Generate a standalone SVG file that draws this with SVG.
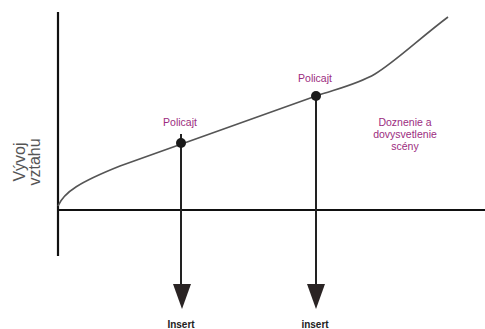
<svg xmlns="http://www.w3.org/2000/svg" width="485" height="329" viewBox="0 0 485 329">
<style>
.axis{stroke:#111;stroke-width:2.2;fill:none}
.curve{stroke:#555;stroke-width:1.6;fill:none}
.drop{stroke:#222;stroke-width:2;fill:none}
.pt{fill:#1a1a1a}
.tip{fill:#2a2424}
.lab{font-family:"Liberation Sans",Arial,sans-serif;font-size:10.5px;fill:#9c2c80;text-anchor:middle}
.ins{font-family:"Liberation Sans",Arial,sans-serif;font-size:10px;font-weight:bold;fill:#222;text-anchor:middle}
.ax{font-family:"Liberation Sans",Arial,sans-serif;font-size:16px;fill:#555;text-anchor:middle}
</style>
<rect width="485" height="329" fill="#fff"/>
<g id="axes">
<line class="axis" x1="58" y1="12" x2="58" y2="256"/>
<line class="axis" x1="57" y1="210" x2="485" y2="210"/>
<text class="ax" transform="translate(24.5,162) rotate(-90)">Vývoj</text>
<text class="ax" transform="translate(39.5,162) rotate(-90)">vztahu</text>
</g>
<g id="curve">
<path class="curve" d="M58,206 C64,192 80,182 120,166 L316,96 C340,88 358,84 375,74 C395,62 420,38 448,17"/>
</g>
<g id="connectors">
<line class="drop" x1="181" y1="134" x2="181" y2="288"/>
<polygon class="tip" points="173,284 191,284 182,309"/>
<line class="drop" x1="316" y1="96" x2="316" y2="288"/>
<polygon class="tip" points="307,284 325,284 316,309"/>
</g>
<g id="point1">
<circle class="pt" cx="181" cy="143" r="5"/>
<text class="lab" x="180" y="126">Policajt</text>
</g>
<g id="point2">
<circle class="pt" cx="316" cy="96" r="5"/>
<text class="lab" x="315" y="82">Policajt</text>
</g>
<g id="ending">
<text class="lab" x="405" y="126">Doznenie a</text>
<text class="lab" x="405" y="138">dovysvetlenie</text>
<text class="lab" x="405" y="150">scény</text>
</g>
<g id="insert1"><text class="ins" x="181" y="328">Insert</text></g>
<g id="insert2"><text class="ins" x="315" y="328">insert</text></g>
</svg>
